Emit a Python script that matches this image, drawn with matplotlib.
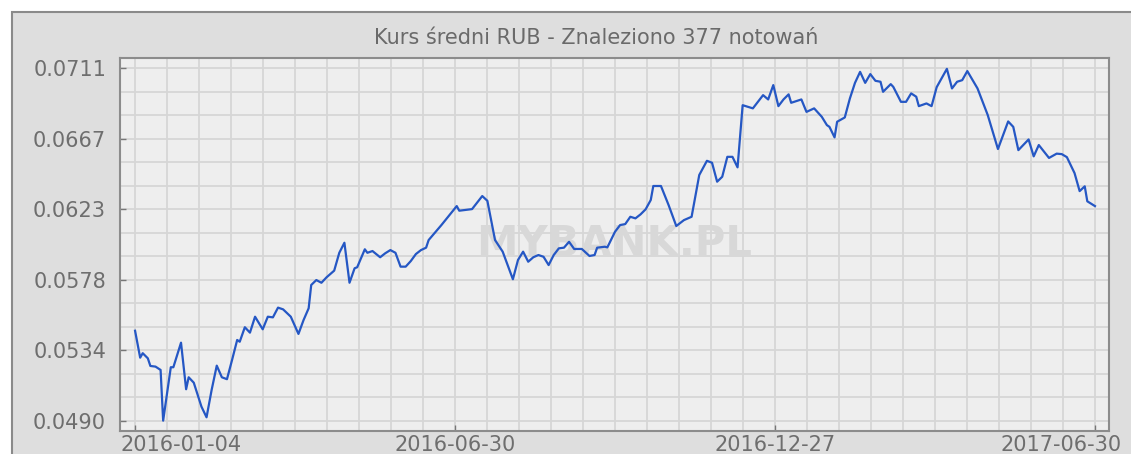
import numpy as np
import matplotlib
matplotlib.use('Agg')
import matplotlib.pyplot as plt
from matplotlib.patches import Rectangle
from matplotlib.transforms import ScaledTranslation

# Quote number (0..376) and average RUB rate
idx = [0, 2, 3, 5, 6, 8, 10, 11, 14, 15, 18, 20, 21, 23, 26, 28, 30, 32, 34, 36,
       38, 40, 41, 43, 45, 47, 50, 52, 54, 56, 58, 61,
       64, 66, 68, 69, 71, 73, 75, 78, 80, 82, 84, 86, 87, 90, 91, 93, 96, 98,
       100, 102, 104, 106, 108, 110, 112, 114, 115, 120,
       126, 127, 132, 136, 138, 141, 144, 148, 150, 152, 154, 156, 158, 160, 162,
       164, 166, 168, 170, 172, 175, 178, 180, 181, 184, 185, 188,
       190, 192, 194, 196, 198, 200, 202, 203, 206, 209, 212, 215, 218, 221, 224,
       226, 228, 230, 232, 234, 236, 238, 240, 242, 246, 248, 250,
       252, 254, 256, 257, 261, 263, 266, 269, 271, 272, 274, 275, 278, 280, 282,
       284, 286, 288, 290, 292, 293, 296, 297, 300, 302, 304, 306, 307, 310, 312,
       314, 318, 320, 322, 324, 326, 330, 334, 338, 342, 344, 346, 350, 352, 354,
       358, 361, 363, 365, 368, 370, 372, 373, 376]
rate = [0.05464, 0.05295, 0.05323, 0.05291, 0.05243, 0.05239, 0.05218, 0.04900,
        0.05235, 0.05235, 0.05389, 0.05097, 0.05172, 0.05138, 0.04988, 0.04921,
        0.05093, 0.05245, 0.05172, 0.05160, 0.05281, 0.05406, 0.05395, 0.05486,
        0.05452, 0.05552, 0.05473, 0.05552, 0.05548, 0.05609, 0.05598, 0.05552,
        0.05444, 0.05531, 0.05605, 0.05751, 0.05782, 0.05765, 0.05799, 0.05841,
        0.05953, 0.06016, 0.05765, 0.05856, 0.05862, 0.05975, 0.05953, 0.05964,
        0.05925, 0.05950, 0.05970, 0.05953, 0.05866, 0.05866, 0.05901, 0.05945,
        0.05970, 0.05985, 0.06033, 0.06127,
        0.06246, 0.06217, 0.06227, 0.06309, 0.06279, 0.06033, 0.05960, 0.05787,
        0.05908, 0.05960, 0.05897, 0.05925, 0.05939, 0.05928, 0.05876, 0.05939,
        0.05981, 0.05985, 0.06022, 0.05977, 0.05977, 0.05933, 0.05939, 0.05985,
        0.05991, 0.05987, 0.06085,
        0.06127, 0.06133, 0.06179, 0.06169, 0.06194, 0.06226, 0.06284, 0.06372,
        0.06372, 0.06252, 0.06121, 0.06158, 0.06179, 0.06441, 0.06530, 0.06518,
        0.06399, 0.06430, 0.06555, 0.06555, 0.06489, 0.06879, 0.06869, 0.06859,
        0.06942, 0.06915, 0.07005,
        0.06873, 0.06915, 0.06947, 0.06894, 0.06915, 0.06837, 0.06859, 0.06806,
        0.06754, 0.06743, 0.06677, 0.06775, 0.06802, 0.06921, 0.07019, 0.07088,
        0.07019, 0.07074, 0.07032, 0.07026, 0.06963, 0.07011, 0.06994, 0.06900,
        0.06900, 0.06953, 0.06932, 0.06873, 0.06890, 0.06873,
        0.06992, 0.07107, 0.06984, 0.07026, 0.07036, 0.07093, 0.06984, 0.06817,
        0.06604, 0.06777, 0.06743, 0.06597, 0.06664, 0.06558, 0.06629, 0.06548,
        0.06575, 0.06572, 0.06553, 0.06453, 0.06340, 0.06370, 0.06276, 0.06246]

n_quotes = 377
x_labels = ['2016-01-04', '2016-06-30', '2016-12-27', '2017-06-30']
y_low, y_high = 0.0490, 0.0711
title = 'Kurs średni RUB - Znaleziono 377 notowań'

fig = plt.figure(figsize=(11.31, 4.54), dpi=100)
fig.patch.set_facecolor('white')

# outer grey panel (behind everything)
panel = Rectangle((12 / 1131, -0.1), 1.1, 1.1 - 12 / 454,
                  transform=fig.transFigure, facecolor='#dedede',
                  edgecolor='#8a8a8a', linewidth=1.5, zorder=-10)
fig.add_artist(panel)

fig.text(596 / 1131, 1 - 38 / 454, title, ha='center', va='center',
         fontsize=15, color='#6a6a6a', zorder=5)

ax = fig.add_axes([120 / 1131, 23 / 454, 989 / 1131, 373 / 454])
ax.set_zorder(2)
ax.set_facecolor('#eeeeee')

ax.plot(idx, rate, color='#2557c4', linewidth=1.6, zorder=3)

ax.text(0.5, 0.5, 'MYBANK.PL', transform=ax.transAxes, ha='center', va='center',
        fontsize=30, fontweight='bold', color='#d8d8d8', zorder=1)

last = n_quotes - 1
ax.set_xlim(-5.9, last + 5.5)
ax.set_ylim(0.04835, 0.07175)

ax.set_xticks(np.linspace(0, last, 4))
ax.set_xticklabels(x_labels)
ax.set_xticks(np.linspace(0, last, 31), minor=True)
ax.set_yticks(np.linspace(y_low, y_high, 6))
ax.set_yticklabels(['%.4f' % v for v in np.linspace(y_low, y_high, 6)])
ax.set_yticks(np.linspace(y_low, y_high, 16), minor=True)

ax.grid(True, which='both', color='#d6d6d6', linewidth=1.3, zorder=0)
ax.set_axisbelow(True)

ax.tick_params(which='major', direction='in', length=4, width=1, color='#777777',
               labelsize=15, labelcolor='#6e6e6e')
ax.tick_params(axis='y', pad=10)
ax.tick_params(axis='x', pad=3)
ax.tick_params(which='minor', length=0)

# first and last date labels are kept inside the panel
xl = ax.get_xticklabels()
xl[0].set_horizontalalignment('left')
xl[0].set_transform(xl[0].get_transform() + ScaledTranslation(-15 / 100, 0, fig.dpi_scale_trans))
xl[-1].set_horizontalalignment('right')
xl[-1].set_transform(xl[-1].get_transform() + ScaledTranslation(27 / 100, 0, fig.dpi_scale_trans))

for s in ax.spines.values():
    s.set_color('#8c8c8c')
    s.set_linewidth(1.5)

fig.savefig('out.png', dpi=100)
